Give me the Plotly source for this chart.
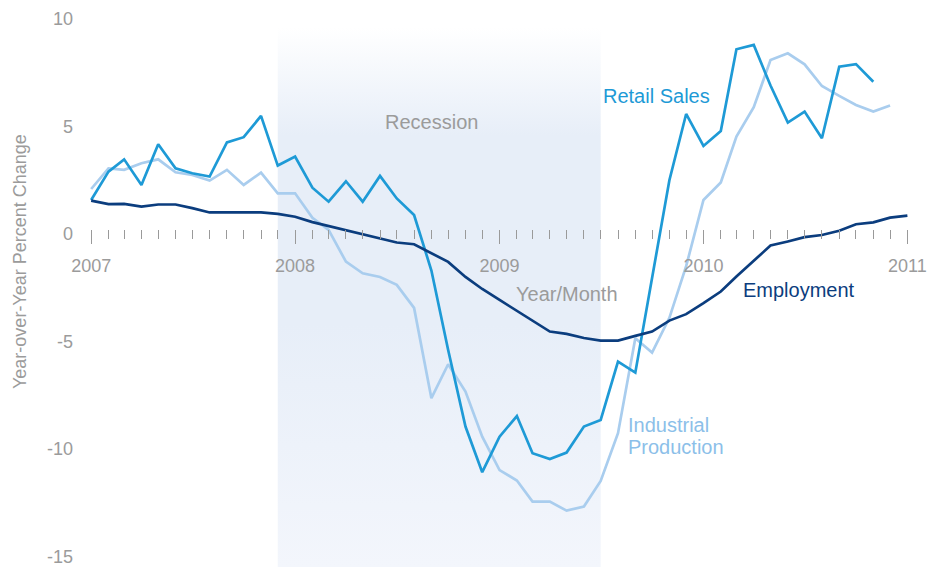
import pandas as pd
import plotly.graph_objects as go

# ---------------- data ----------------
months = pd.date_range("2007-01-01", "2011-01-01", freq="MS").strftime("%Y-%m-%d").tolist()

employment = [1.55, 1.39, 1.40, 1.27, 1.37, 1.37, 1.20, 1.00, 1.00, 1.00, 1.00, 0.93,
              0.80, 0.55, 0.37, 0.19, 0.00, -0.20, -0.40, -0.48, -0.90, -1.30, -2.00, -2.56,
              -3.07, -3.58, -4.05, -4.54, -4.65, -4.84, -4.96, -4.96, -4.74, -4.54, -4.03, -3.73,
              -3.22, -2.68, -1.98, -1.24, -0.54, -0.35, -0.15, -0.05, 0.15, 0.45, 0.54, 0.76,
              0.85]

retail_sales = [1.58, 2.90, 3.47, 2.28, 4.17, 3.05, 2.82, 2.67, 4.26, 4.50, 5.49, 3.18,
                3.60, 2.15, 1.50, 2.45, 1.50, 2.70, 1.65, 0.88, -1.70, -5.40, -8.96, -11.08,
                -9.43, -8.47, -10.20, -10.47, -10.17, -8.96, -8.65, -5.94, -6.45, -1.98, 2.50, 5.58,
                4.09, 4.79, 8.59, 8.79, 6.90, 5.18, 5.69, 4.45, 7.78, 7.90, 7.08]

industrial_production = [2.09, 3.05, 2.98, 3.29, 3.47, 2.87, 2.74, 2.48, 2.98, 2.28, 2.85, 1.89,
                         1.89, 0.75, 0.19, -1.29, -1.83, -2.00, -2.37, -3.44, -7.64, -6.06, -7.33, -9.43,
                         -10.98, -11.47, -12.45, -12.45, -12.87, -12.68, -11.49, -9.27, -4.85, -5.52, -3.90, -1.50,
                         1.58, 2.39, 4.53, 5.89, 8.09, 8.40, 7.89, 6.88, 6.42, 6.00, 5.69, 5.97]

recession_start = "2007-12-01"
recession_end = "2009-07-01"

y_ticks = [-15, -10, -5, 0, 5, 10]
y_tick_labels = ["-15", "-10", "-5", "0", "5", "10"]

# ---------------- style ----------------
FONT = "Liberation Sans, Arial, Helvetica, sans-serif"
GRAY = "#9b9b9b"
C_RETAIL = "#1e9ad6"
C_IP = "#a9cdee"
C_IP_LABEL = "#8cbfe9"
C_EMP = "#0b3d7e"

Y_MIN, Y_MAX = -15.49, 10.88
SHADE_TOP = 9.6

fig = go.Figure()

# recession band with vertical gradient
fig.add_trace(go.Scatter(
    x=[recession_start, recession_end, recession_end, recession_start, recession_start],
    y=[Y_MIN, Y_MIN, SHADE_TOP, SHADE_TOP, Y_MIN],
    mode="lines", line=dict(width=0), fill="toself",
    fillgradient=dict(type="vertical",
                      colorscale=[[0, "#f3f6fc"], [0.45, "#e7eef8"], [0.8, "#e7eef8"], [1, "#ffffff"]]),
    hoverinfo="skip", showlegend=False))

fig.add_trace(go.Scatter(x=months[:len(industrial_production)], y=industrial_production,
                         mode="lines", line=dict(color=C_IP, width=2.7), name="Industrial Production"))
fig.add_trace(go.Scatter(x=months[:len(retail_sales)], y=retail_sales,
                         mode="lines", line=dict(color=C_RETAIL, width=2.7), name="Retail Sales"))
fig.add_trace(go.Scatter(x=months[:len(employment)], y=employment,
                         mode="lines", line=dict(color=C_EMP, width=2.7), name="Employment"))

W, H = 930, 567
L, R = 80, 12
PW = W - L - R


def px(xp):
    return (xp - L) / PW


def py(yp):
    return (H - yp) / H


ann = [
    dict(text="Recession", x=px(431), y=py(122), xanchor="center", yanchor="middle",
         font=dict(size=20, color=GRAY)),
    dict(text="Year/Month", x=px(567), y=py(294), xanchor="center", yanchor="middle",
         font=dict(size=20, color=GRAY)),
    dict(text="Retail Sales", x=px(601), y=py(96), xanchor="left", yanchor="middle",
         font=dict(size=20, color=C_RETAIL)),
    dict(text="Employment", x=px(741), y=py(290), xanchor="left", yanchor="middle",
         font=dict(size=20, color=C_EMP)),
    dict(text="Industrial", x=px(626), y=py(425), xanchor="left", yanchor="middle",
         font=dict(size=20, color=C_IP_LABEL)),
    dict(text="Production", x=px(626), y=py(447), xanchor="left", yanchor="middle",
         font=dict(size=20, color=C_IP_LABEL)),
    dict(text="Year-over-Year Percent Change", x=px(20), y=py(262), xanchor="center",
         yanchor="middle", textangle=-90, font=dict(size=18, color=GRAY)),
]
for a in ann:
    a.update(xref="paper", yref="paper", showarrow=False)

fig.update_layout(
    width=W, height=H,
    margin=dict(l=L, r=R, t=0, b=0, autoexpand=False),
    paper_bgcolor="white", plot_bgcolor="white",
    showlegend=False,
    font=dict(family=FONT, color=GRAY),
    annotations=ann,
    xaxis=dict(
        type="date",
        range=["2006-12-12", "2011-01-20"],
        anchor="free", position=py(229),
        automargin=False,
        showgrid=False, zeroline=False, showline=False,
        tickmode="linear", tick0="2007-01-01", dtick="M12", tickformat="%Y",
        ticks="outside", ticklen=14, tickwidth=1, tickcolor="#9a9a9a",
        ticklabelstandoff=6,
        tickfont=dict(size=18, color=GRAY, family=FONT),
        minor=dict(dtick="M1", tick0="2007-01-01", ticks="outside", ticklen=9,
                   tickwidth=1, tickcolor="#9a9a9a", showgrid=False),
    ),
    yaxis=dict(
        range=[Y_MIN, Y_MAX],
        automargin=False,
        showgrid=False, zeroline=False, showline=False,
        tickmode="array", tickvals=y_ticks, ticktext=y_tick_labels,
        ticks="", ticklabelstandoff=6,
        tickfont=dict(size=18, color=GRAY, family=FONT),
    ),
)

fig.write_html(
    "out.html",
    config={"displayModeBar": False},
    post_script="document.body.style.margin='0';document.body.style.padding='0';document.body.style.overflow='hidden';",
)
